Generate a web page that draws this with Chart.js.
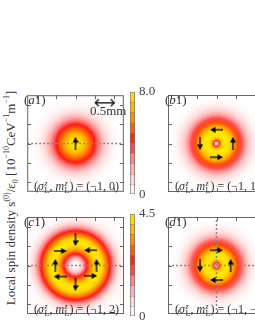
<!DOCTYPE html>
<html lang="en">
<head>
<meta charset="UTF-8">
<title>Local spin density maps</title>
<script src="https://cdn.jsdelivr.net/npm/chart.js"></script>
<style>
  body {
    margin: 0;
    width: 255px;
    height: 330px;
    overflow: hidden;
    position: relative;
    background: #fff;
    color: #333;
    font-family: 'Liberation Serif', 'DejaVu Serif', serif;
  }
  canvas { position: absolute; }
  .lbl { position: absolute; white-space: nowrap; font-size: 13px; line-height: 1; }
  .pair { font-size: 12px; }
  .ss { position: relative; display: inline-block; width: 5px; height: 0; margin-left: 0.5px; }
  .ss i, .ss span { position: absolute; left: 0; font-size: 8px; line-height: 1; }
  .ss i { top: -10px; }
  .ss span { top: -3px; }
  .ylab { left: 10px; top: 198px; transform: translate(-50%, -50%) rotate(-90deg); }
  .ylab sup, .ylab sub { font-size: 8px; line-height: 0; }
</style>
</head>
<body>

<canvas id="pa" width="107" height="107" style="left:22px;top:90px"></canvas>
<canvas id="ca" width="36" height="126" style="left:126px;top:80px"></canvas>
<canvas id="pb" width="107" height="107" style="left:163px;top:90px"></canvas>
<canvas id="pc" width="107" height="107" style="left:22px;top:212px"></canvas>
<canvas id="cc" width="36" height="126" style="left:126px;top:202px"></canvas>
<canvas id="pd" width="107" height="107" style="left:163px;top:212px"></canvas>

<div class="lbl" style="left:24px;top:93px">(<i>a</i>1)</div>
<div class="lbl" style="left:165px;top:93px">(<i>b</i>1)</div>
<div class="lbl" style="left:24px;top:215px">(<i>c</i>1)</div>
<div class="lbl" style="left:165px;top:215px">(<i>d</i>1)</div>
<div class="lbl" style="left:90px;top:104px">0.5mm</div>

<div class="lbl pair" style="left:34px;top:180px">(<i>σ</i><span class="ss"><i>z</i><span>L</span></span>, <i>m</i><span class="ss"><i>z</i><span>L</span></span>) = (−1, 0)</div>
<div class="lbl pair" style="left:175px;top:180px">(<i>σ</i><span class="ss"><i>z</i><span>L</span></span>, <i>m</i><span class="ss"><i>z</i><span>L</span></span>) = (−1, 1)</div>
<div class="lbl pair" style="left:34px;top:303px">(<i>σ</i><span class="ss"><i>z</i><span>L</span></span>, <i>m</i><span class="ss"><i>z</i><span>L</span></span>) = (−1, 2)</div>
<div class="lbl pair" style="left:175px;top:303px">(<i>σ</i><span class="ss"><i>z</i><span>L</span></span>, <i>m</i><span class="ss"><i>z</i><span>L</span></span>) = (−1, −1)</div>

<div class="lbl ylab">Local spin density s<sup>(0)</sup>/ε<sub>0</sub> [10<sup>−10</sup>CeV<sup>−1</sup>m<sup>−1</sup>]</div>

<script>
// axis range (mm) and frame ticks
const axisMin = -1.27;
const axisMax = 1.27;
const axisTicks = [-1, -0.5, 0, 0.5, 1];

// radial profiles (radius in mm, density in colorbar units)
const radiiA1 = [0, 0.1, 0.2, 0.3, 0.4, 0.5, 0.6, 0.7, 0.8, 0.9, 1.0, 1.1, 1.3];
const valuesA1 = [8.0, 7.8, 7.2, 6.3, 5.2, 4.1, 3.0, 2.0, 1.2, 0.6, 0.25, 0.08, 0];
const radiiB1 = [0, 0.04, 0.08, 0.12, 0.18, 0.25, 0.35, 0.45, 0.55, 0.65, 0.75, 0.85, 0.95, 1.05, 1.15, 1.3];
const valuesB1 = [0, 2.0, 4.5, 6.5, 7.7, 8.0, 7.6, 6.5, 5.0, 3.6, 2.4, 1.5, 0.8, 0.35, 0.12, 0];
const radiiC1 = [0, 0.1, 0.2, 0.3, 0.4, 0.5, 0.6, 0.7, 0.8, 0.9, 1.0, 1.1, 1.2, 1.3];
const valuesC1 = [0, 0.25, 1.1, 2.3, 3.4, 4.2, 4.5, 4.2, 3.3, 2.3, 1.4, 0.7, 0.3, 0.1];
const radiiD1 = [0, 0.04, 0.08, 0.12, 0.18, 0.25, 0.35, 0.45, 0.55, 0.65, 0.75, 0.85, 0.95, 1.05, 1.15, 1.3];
const valuesD1 = [0.4, 1.3, 2.6, 3.7, 4.3, 4.5, 4.2, 3.5, 2.7, 1.9, 1.2, 0.7, 0.35, 0.15, 0.05, 0];

// colorbar levels
const levelsRow1 = [0, 0.8, 1.6, 2.4, 3.2, 4.0, 4.8, 5.6, 6.4, 7.2, 8.0];
const levelsRow2 = [0, 0.45, 0.9, 1.35, 1.8, 2.25, 2.7, 3.15, 3.6, 4.05, 4.5];

// spin arrows: position (mm) and direction (deg, 0 = up, clockwise)
const arrowXA1 = [0];
const arrowYA1 = [0];
const arrowRotA1 = [0];
const arrowXB1 = [0, 0, -0.43, 0.43];
const arrowYB1 = [0.36, -0.36, 0, 0];
const arrowRotB1 = [270, 90, 180, 0];
const arrowXC1 = [0, -0.40, 0.40, -0.53, 0.55, -0.40, 0.40, 0];
const arrowYC1 = [0.68, 0.38, 0.40, 0, 0, -0.29, -0.27, -0.50];
const arrowRotC1 = [180, 90, 270, 0, 0, 270, 90, 180];
const arrowXD1 = [0, -0.43, 0.37, 0];
const arrowYD1 = [0.40, 0, 0, -0.38];
const arrowRotD1 = [90, 180, 0, 270];

// 0.5 mm scale bar in (a1)
const scaleBarX = [0.52, 1.02];
const scaleBarY = 1.07;

// colormap white -> pink -> red -> orange -> yellow
const cmapStops = [0, 0.2, 0.4, 0.52, 0.66, 0.82, 1];
const cmapColors = [[255,255,255],[255,200,200],[255,105,105],[255,20,20],[255,100,0],[255,175,0],[255,235,0]];

function colorAt(t) {
  t = Math.max(0, Math.min(1, t));
  let i = 0;
  while (i < cmapStops.length - 2 && t > cmapStops[i + 1]) i++;
  const f = (t - cmapStops[i]) / (cmapStops[i + 1] - cmapStops[i]);
  const a = cmapColors[i], b = cmapColors[i + 1];
  const c = a.map((v, k) => Math.round(v + (b[k] - v) * f));
  return `rgb(${c[0]},${c[1]},${c[2]})`;
}

function makeArrow() {
  const c = document.createElement('canvas');
  c.width = 6; c.height = 13;
  const g = c.getContext('2d');
  g.fillStyle = '#000';
  g.fillRect(2.35, 4, 1.3, 9);
  g.beginPath(); g.moveTo(3, 0); g.lineTo(6, 5.5); g.lineTo(0, 5.5); g.closePath(); g.fill();
  return c;
}

function makeChevron() {
  const c = document.createElement('canvas');
  c.width = 9; c.height = 9;
  const g = c.getContext('2d');
  g.strokeStyle = '#000';
  g.lineWidth = 1.2;
  g.beginPath(); g.moveTo(1, 8); g.lineTo(4.5, 4.5); g.lineTo(8, 8); g.stroke();
  return c;
}

const arrowImg = makeArrow();
const chevronImg = makeChevron();

const heatPlugin = {
  id: 'heat',
  beforeDatasetsDraw(chart, args, opts) {
    const { ctx, chartArea: a, scales: { x, y } } = chart;
    const cx = x.getPixelForValue(0), cy = y.getPixelForValue(0);
    const rLast = opts.radii[opts.radii.length - 1];
    const rPx = x.getPixelForValue(rLast) - cx;
    const g = ctx.createRadialGradient(cx, cy, 0, cx, cy, rPx);
    opts.radii.forEach((r, i) => g.addColorStop(r / rLast, colorAt(opts.values[i] / opts.max)));
    ctx.save();
    ctx.fillStyle = g;
    ctx.fillRect(a.left, a.top, a.width, a.height);
    ctx.restore();
  },
  afterDraw(chart) {
    const { ctx, chartArea: a, scales: { x, y } } = chart;
    ctx.save();
    ctx.strokeStyle = '#666';
    ctx.lineWidth = 1;
    ctx.strokeRect(a.left + 0.5, a.top + 0.5, a.width - 1, a.height - 1);
    ctx.beginPath();
    axisTicks.forEach(v => {
      const px = Math.round(x.getPixelForValue(v)) + 0.5;
      const py = Math.round(y.getPixelForValue(v)) + 0.5;
      ctx.moveTo(px, a.top); ctx.lineTo(px, a.top + 4);
      ctx.moveTo(px, a.bottom); ctx.lineTo(px, a.bottom - 4);
      ctx.moveTo(a.left, py); ctx.lineTo(a.left + 4, py);
      ctx.moveTo(a.right, py); ctx.lineTo(a.right - 4, py);
    });
    ctx.stroke();
    ctx.restore();
  }
};

function arrowSet(xs, ys, rots) {
  return {
    data: xs.map((v, i) => ({ x: v, y: ys[i] })),
    pointStyle: arrowImg,
    pointRadius: 3,
    pointRotation: rots,
    showLine: false
  };
}

function dashed(points) {
  return {
    data: points,
    showLine: true,
    borderColor: '#8a8a8a',
    borderWidth: 1.5,
    borderDash: [2, 2],
    pointRadius: 0
  };
}

function makePanel(id, radii, values, max, datasets) {
  return new Chart(document.getElementById(id), {
    type: 'scatter',
    data: { datasets },
    options: {
      responsive: false,
      animation: false,
      events: [],
      layout: { padding: 0 },
      scales: {
        x: { type: 'linear', min: axisMin, max: axisMax, display: false },
        y: { type: 'linear', min: axisMin, max: axisMax, display: false }
      },
      plugins: {
        legend: { display: false },
        tooltip: { enabled: false },
        heat: { radii, values, max }
      }
    },
    plugins: [heatPlugin]
  });
}

const hLine = [{ x: axisMin, y: 0 }, { x: axisMax, y: 0 }];
const vLine = [{ x: 0, y: axisMin }, { x: 0, y: axisMax }];

makePanel('pa', radiiA1, valuesA1, 8.0, [
  arrowSet(arrowXA1, arrowYA1, arrowRotA1),
  {
    data: scaleBarX.map(v => ({ x: v, y: scaleBarY })),
    showLine: true,
    borderColor: '#000',
    borderWidth: 1.2,
    pointStyle: chevronImg,
    pointRadius: 3,
    pointRotation: [270, 90]
  },
  dashed(hLine)
]);
makePanel('pb', radiiB1, valuesB1, 8.0, [arrowSet(arrowXB1, arrowYB1, arrowRotB1)]);
makePanel('pc', radiiC1, valuesC1, 4.5, [arrowSet(arrowXC1, arrowYC1, arrowRotC1), dashed(hLine)]);
makePanel('pd', radiiD1, valuesD1, 4.5, [arrowSet(arrowXD1, arrowYD1, arrowRotD1), dashed(hLine), dashed(vLine)]);

// colorbars
const cbarTicks = {
  id: 'cbticks',
  afterDraw(chart, args, opts) {
    const { ctx, chartArea: a, scales: { y } } = chart;
    ctx.save();
    ctx.strokeStyle = '#777';
    ctx.lineWidth = 1;
    ctx.beginPath();
    opts.levels.slice(1, -1).forEach(v => {
      const py = Math.round(y.getPixelForValue(v)) + 0.5;
      ctx.moveTo(a.left, py); ctx.lineTo(a.left + 1.5, py);
      ctx.moveTo(a.right, py); ctx.lineTo(a.right - 1.5, py);
    });
    ctx.stroke();
    ctx.restore();
  }
};

function bandGradient(chart, levels) {
  const a = chart.chartArea;
  if (!a) return '#ccc';
  const y = chart.scales.y;
  const max = levels[levels.length - 1];
  const y0 = y.getPixelForValue(0), y1 = y.getPixelForValue(max);
  const g = chart.ctx.createLinearGradient(0, y0, 0, y1);
  for (let i = 0; i < levels.length - 1; i++) {
    const c = colorAt((levels[i] + levels[i + 1]) / 2 / max);
    g.addColorStop(levels[i] / max, c);
    g.addColorStop(levels[i + 1] / max - 0.0005, c);
  }
  return g;
}

function makeColorbar(id, levels) {
  const max = levels[levels.length - 1];
  return new Chart(document.getElementById(id), {
    type: 'bar',
    data: {
      labels: [''],
      datasets: [{
        data: [[0, max]],
        backgroundColor: c => bandGradient(c.chart, levels),
        borderColor: '#777',
        borderWidth: 1,
        borderSkipped: false,
        barPercentage: 1,
        categoryPercentage: 1
      }]
    },
    options: {
      responsive: false,
      animation: false,
      events: [],
      layout: { padding: { left: 4, right: 0, top: 10, bottom: 10 } },
      scales: {
        x: { display: false },
        y: {
          position: 'right',
          min: 0,
          max,
          grid: { display: false, drawTicks: false },
          border: { display: false },
          afterBuildTicks: s => { s.ticks = [{ value: 0 }, { value: max }]; },
          afterFit: s => { s.width = 27; },
          ticks: {
            padding: 4,
            color: '#444',
            font: { family: 'Liberation Serif', size: 13 },
            callback: v => v === 0 ? '0' : v.toFixed(1)
          }
        }
      },
      plugins: { legend: { display: false }, tooltip: { enabled: false }, cbticks: { levels } }
    },
    plugins: [cbarTicks]
  });
}

makeColorbar('ca', levelsRow1);
makeColorbar('cc', levelsRow2);
</script>
</body>
</html>
